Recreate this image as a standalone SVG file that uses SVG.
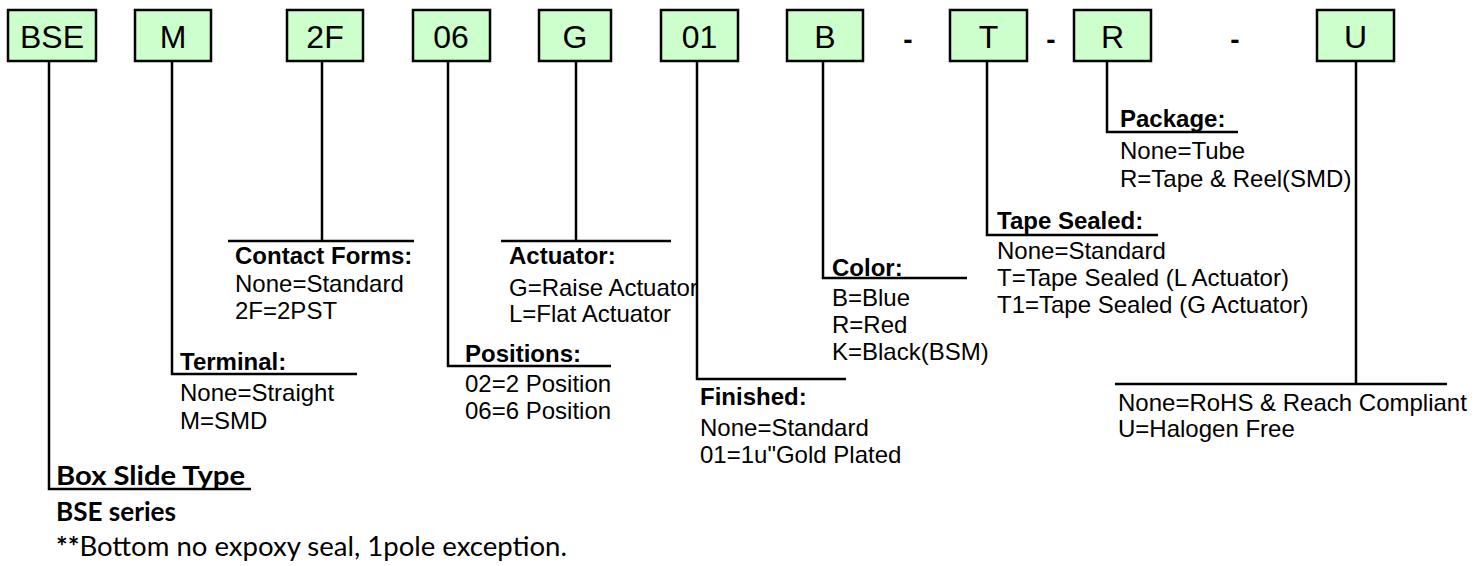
<svg xmlns="http://www.w3.org/2000/svg" width="1484" height="566" viewBox="0 0 1484 566">
<style>
.box{fill:#CCFFCC;stroke:#000;stroke-width:2.5}
.bt{font-family:"Liberation Sans",Arial,sans-serif;font-size:32px;text-anchor:middle;fill:#000}
.dash{font-family:"Liberation Sans",Arial,sans-serif;font-size:28px;font-weight:bold;text-anchor:middle;fill:#000}
.ln{stroke:#000;stroke-width:2.5;fill:none}
.h{font-family:"Liberation Sans",Arial,sans-serif;font-size:24px;font-weight:bold;fill:#000}
.t{font-family:"Liberation Sans",Arial,sans-serif;font-size:24px;fill:#000}
.c{font-family:Lato,"Open Sans",sans-serif;fill:#000}
</style>
<rect width="1484" height="566" fill="#fff"/>
<g id="connectors">
<path class="ln" d="M49 61V489H251"/>
<path class="ln" d="M172 61V374H357"/>
<path class="ln" d="M322 61V241M228 241H414"/>
<path class="ln" d="M448 61V366H611"/>
<path class="ln" d="M576 61V241M501 241H671"/>
<path class="ln" d="M697 61V379H846"/>
<path class="ln" d="M823 61V278H967"/>
<path class="ln" d="M987 61V235H1158"/>
<path class="ln" d="M1107 61V132H1238"/>
<path class="ln" d="M1356 61V384M1115 384H1447"/>
</g>
<g id="node-bse"><rect class="box" x="8" y="10" width="88" height="51"/><text class="bt" x="52" y="48">BSE</text></g>
<g id="node-m"><rect class="box" x="135" y="10" width="76" height="51"/><text class="bt" x="173" y="48">M</text></g>
<g id="node-2f"><rect class="box" x="287" y="10" width="76" height="51"/><text class="bt" x="325" y="48">2F</text></g>
<g id="node-06"><rect class="box" x="413" y="10" width="77" height="51"/><text class="bt" x="451" y="48">06</text></g>
<g id="node-g"><rect class="box" x="539" y="10" width="72" height="51"/><text class="bt" x="575" y="48">G</text></g>
<g id="node-01"><rect class="box" x="661" y="10" width="77" height="51"/><text class="bt" x="699.5" y="48">01</text></g>
<g id="node-b"><rect class="box" x="787" y="10" width="76" height="51"/><text class="bt" x="825" y="48">B</text></g>
<g id="node-t"><rect class="box" x="950" y="10" width="77" height="51"/><text class="bt" x="988.5" y="48">T</text></g>
<g id="node-r"><rect class="box" x="1074" y="10" width="77" height="51"/><text class="bt" x="1112.5" y="48">R</text></g>
<g id="node-u"><rect class="box" x="1317" y="10" width="77" height="51"/><text class="bt" x="1355.5" y="48">U</text></g>
<g id="dashes">
<text class="dash" x="908" y="49">-</text>
<text class="dash" x="1051" y="49">-</text>
<text class="dash" x="1235" y="49">-</text>
</g>
<g id="label-type">
<text class="c" x="56" y="485" font-size="27" font-weight="bold" textLength="189" lengthAdjust="spacingAndGlyphs">Box Slide Type</text>
<text class="c" x="56" y="521" font-size="26" font-weight="bold" textLength="120" lengthAdjust="spacingAndGlyphs">BSE series</text>
<text class="c" x="56" y="556" font-size="26" textLength="511" lengthAdjust="spacingAndGlyphs"><tspan font-weight="bold">**</tspan>Bottom no expoxy seal, 1pole exception.</text>
</g>
<g id="label-terminal">
<text class="h" x="180" y="370">Terminal:</text>
<text class="t" x="180" y="401">None=Straight</text>
<text class="t" x="180" y="429">M=SMD</text>
</g>
<g id="label-contact">
<text class="h" x="235" y="264">Contact Forms:</text>
<text class="t" x="235" y="292">None=Standard</text>
<text class="t" x="235" y="319">2F=2PST</text>
</g>
<g id="label-positions">
<text class="h" x="465" y="362">Positions:</text>
<text class="t" x="465" y="392">02=2 Position</text>
<text class="t" x="465" y="419">06=6 Position</text>
</g>
<g id="label-actuator">
<text class="h" x="509" y="264">Actuator:</text>
<text class="t" x="509" y="296">G=Raise Actuator</text>
<text class="t" x="509" y="322">L=Flat Actuator</text>
</g>
<g id="label-finished">
<text class="h" x="700" y="405">Finished:</text>
<text class="t" x="700" y="436">None=Standard</text>
<text class="t" x="700" y="463">01=1u"Gold Plated</text>
</g>
<g id="label-color">
<text class="h" x="832" y="276">Color:</text>
<text class="t" x="832" y="306">B=Blue</text>
<text class="t" x="832" y="333">R=Red</text>
<text class="t" x="832" y="360">K=Black(BSM)</text>
</g>
<g id="label-tape">
<text class="h" x="997" y="229">Tape Sealed:</text>
<text class="t" x="997" y="259">None=Standard</text>
<text class="t" x="997" y="286">T=Tape Sealed (L Actuator)</text>
<text class="t" x="997" y="313">T1=Tape Sealed (G Actuator)</text>
</g>
<g id="label-package">
<text class="h" x="1120" y="127">Package:</text>
<text class="t" x="1120" y="159">None=Tube</text>
<text class="t" x="1120" y="187">R=Tape &amp; Reel(SMD)</text>
</g>
<g id="label-rohs">
<text class="t" x="1118" y="411">None=RoHS &amp; Reach Compliant</text>
<text class="t" x="1118" y="437">U=Halogen Free</text>
</g>
</svg>
